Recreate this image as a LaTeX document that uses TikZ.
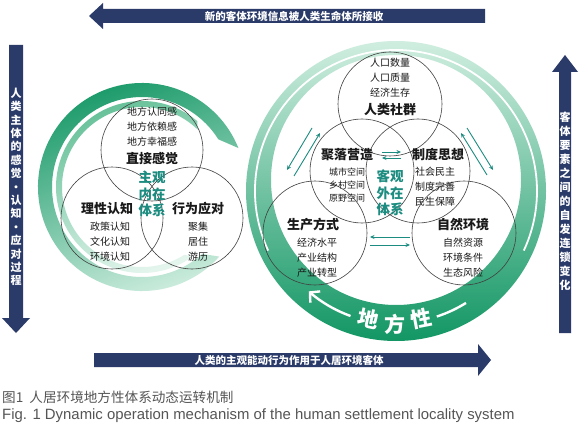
\documentclass[tikz,border=0pt]{standalone}
\usepackage{fontspec}
\newfontfamily\cjk{Noto Sans CJK SC}
\newfontfamily\enfont{Liberation Sans}
\usetikzlibrary{arrows.meta}
\definecolor{navy}{RGB}{42,58,105}
\definecolor{gdark}{RGB}{18,150,100}
\definecolor{gmid}{RGB}{95,190,148}
\definecolor{glight}{RGB}{208,238,224}
\definecolor{teal1}{RGB}{28,140,128}
\definecolor{txt}{RGB}{25,25,25}
\definecolor{capc}{RGB}{85,85,85}
\tikzset{
  circ/.style={draw=black!75, line width=0.6pt},
  ttl/.style={font=\cjk\bfseries\fontsize{13}{15}\selectfont, text=txt, inner sep=0pt},
  sub/.style={font=\cjk\fontsize{10}{15}\selectfont, text=txt, align=center, inner sep=0pt},
  subs/.style={font=\cjk\fontsize{9}{13}\selectfont, text=txt, align=center, inner sep=0pt},
  core/.style={font=\cjk\bfseries\fontsize{13.5}{16.3}\selectfont, text=teal1, align=center, inner sep=0pt},
  bartext/.style={font=\cjk\bfseries\fontsize{10.5}{12}\selectfont, text=white, inner sep=0pt},
  vtext/.style={font=\cjk\bfseries\fontsize{11}{13.4}\selectfont, text=white, align=center, inner sep=0pt},
  pair/.style={draw=teal1, line width=0.9pt, -{Stealth[length=4.5pt,width=4pt]}},
  dfx/.style={font=\cjk\bfseries\fontsize{21}{21}\selectfont, text=white, inner sep=0pt},
}
\begin{document}
\begin{tikzpicture}[x=1pt,y=1pt]
\useasboundingbox (0,0) rectangle (581,-425);
\fill[white] (0,0) rectangle (581,-425);

% ---------- left ring ----------
\coordinate (C1) at (142,-187);
\shade[top color=gdark, middle color=gdark!70!glight, bottom color=glight, shading angle=20]
  ([shift={(C1)}]22:104) arc[start angle=22, end angle=318, radius=104]
  -- ([shift={(C1)}]312:90) arc[start angle=312, end angle=32, radius=90] -- cycle;
\shade[top color=gmid, bottom color=glight!60!white, shading angle=20]
  ([shift={(C1)}]50:86) arc[start angle=50, end angle=306, radius=86]
  -- ([shift={(C1)}]302:80) arc[start angle=302, end angle=46, radius=80] -- cycle;

% ---------- right ring ----------
\coordinate (C2) at (396,-191);
\coordinate (C3) at (396,-180);
\shade[even odd rule, top color=glight, middle color=gmid!85!glight, bottom color=gdark]
  (C2) circle (150) (C3) circle (125);
\draw[white, line width=1.8pt] ([shift={(C2)}]205:141) arc[start angle=205, end angle=-25, radius=141];
\draw[white, line width=2.4pt, -{Straight Barb[length=7pt,width=15pt]}]
  ([shift={(C2)}]-110:133) arc[start angle=-110, end angle=-131, radius=133];
\draw[white, line width=2.4pt]
  ([shift={(C2)}]-72:132) arc[start angle=-72, end angle=-58, radius=132];
\node[dfx, rotate=-12] (d1) at ([shift={(C2)}]-102:131) {地};
\node[dfx] (d2) at ([shift={(C2)}]-90.5:133) {方};
\node[dfx, rotate=11] (d3) at ([shift={(C2)}]-79:130) {性};

% ---------- big arrows ----------
\fill[navy] (103,-9) -- (485,-9) -- (485,-23) -- (103,-23) -- (103,-29) -- (89,-16) -- (103,-3) -- cycle;
\node[bartext] (tt) at (294,-16) {新的客体环境信息被人类生命体所接收};
\fill[navy] (94,-353) -- (478,-353) -- (478,-344) -- (491,-360) -- (478,-376) -- (478,-367) -- (94,-367) -- cycle;
\node[bartext] (bt) at (289,-360) {人类的主观能动行为作用于人居环境客体};
\fill[navy] (9,-45) -- (23,-45) -- (23,-318) -- (30,-318) -- (16,-333) -- (2,-318) -- (9,-318) -- cycle;
\node[vtext] (lt) at (16,-187) {人\\类\\主\\体\\的\\感\\觉\\·\\认\\知\\·\\应\\对\\过\\程};
\fill[navy] (559,-333) -- (571,-333) -- (571,-72) -- (578,-72) -- (565,-55) -- (552,-72) -- (559,-72) -- cycle;
\node[vtext, font=\cjk\bfseries\fontsize{11}{14}\selectfont] (rt) at (565,-201) {客\\体\\要\\素\\之\\间\\的\\自\\发\\连\\锁\\变\\化};

% ---------- left circles ----------
\draw[circ] (152,-150) circle (51);
\draw[circ] (112,-218) circle (51);
\draw[circ] (192,-218) circle (51);
\node[sub] (l1s) at (152,-127) {地方认同感\\地方依赖感\\地方幸福感};
\node[ttl] (l1) at (152,-159) {直接感觉};
\node[core] (lc) at (152,-194) {主观\\内在\\体系};
\node[ttl] (l2) at (107,-209) {理性认知};
\node[sub] (l2s) at (110,-242) {政策认知\\文化认知\\环境认知};
\node[ttl] (l3) at (198,-209) {行为应对};
\node[sub] (l3s) at (198,-242) {聚集\\居住\\游历};

% ---------- right circles ----------
\draw[circ] (390,-104) circle (52);
\draw[circ] (362,-171) circle (52);
\draw[circ] (418,-171) circle (52);
\draw[circ] (315,-233) circle (52);
\draw[circ] (464,-233) circle (52);
\node[sub] (r1s) at (390,-78) {人口数量\\人口质量\\经济生存};
\node[ttl] (r1) at (390,-110) {人类社群};
\node[ttl] (r2) at (347,-155) {聚落营造};
\node[subs] (r2s) at (347,-185) {城市空间\\乡村空间\\原野空间};
\node[ttl] (r3) at (438,-155) {制度思想};
\node[sub] (r3s) at (435,-187) {社会民主\\制度完善\\民生保障};
\node[core] (rc) at (390,-193) {客观\\外在\\体系};
\node[ttl] (r4) at (313,-225) {生产方式};
\node[sub] (r4s) at (317,-258) {经济水平\\产业结构\\产业转型};
\node[ttl] (r5) at (463,-225) {自然环境};
\node[sub] (r5s) at (463,-258) {自然资源\\环境条件\\生态风险};

% ---------- small double arrows ----------
\coordinate (ca1) at (382,-152); \coordinate (ca2) at (401,-152);
\coordinate (cb1) at (401,-158); \coordinate (cb2) at (382,-158);
\draw[pair] (ca1) -- (ca2);
\draw[pair] (cb1) -- (cb2);
\coordinate (ba1) at (410,-237); \coordinate (ba2) at (370,-237);
\coordinate (bb1) at (370,-245); \coordinate (bb2) at (410,-245);
\draw[pair] (ba1) -- (ba2);
\draw[pair] (bb1) -- (bb2);
\coordinate (la1) at (312,-128); \coordinate (la2) at (287,-170);
\coordinate (lb1) at (294,-176); \coordinate (lb2) at (320,-133);
\draw[pair] (la1) -- (la2);
\draw[pair] (lb1) -- (lb2);
\coordinate (ra1) at (487,-175); \coordinate (ra2) at (461,-133);
\coordinate (rb1) at (467,-128); \coordinate (rb2) at (493,-170);
\draw[pair] (ra1) -- (ra2);
\draw[pair] (rb1) -- (rb2);

% ---------- captions ----------
\node[anchor=west, inner sep=0pt, text=capc, font=\cjk\fontsize{13.6}{15}\selectfont] (cap1) at (2,-397) {图1\hspace{0.45em}人居环境地方性体系动态运转机制};
\node[anchor=west, inner sep=0pt, text=capc, font=\enfont\fontsize{14.9}{16}\selectfont] (cap2) at (2,-416) {Fig. 1 Dynamic operation mechanism of the human settlement locality system};
\end{tikzpicture}
\end{document}
